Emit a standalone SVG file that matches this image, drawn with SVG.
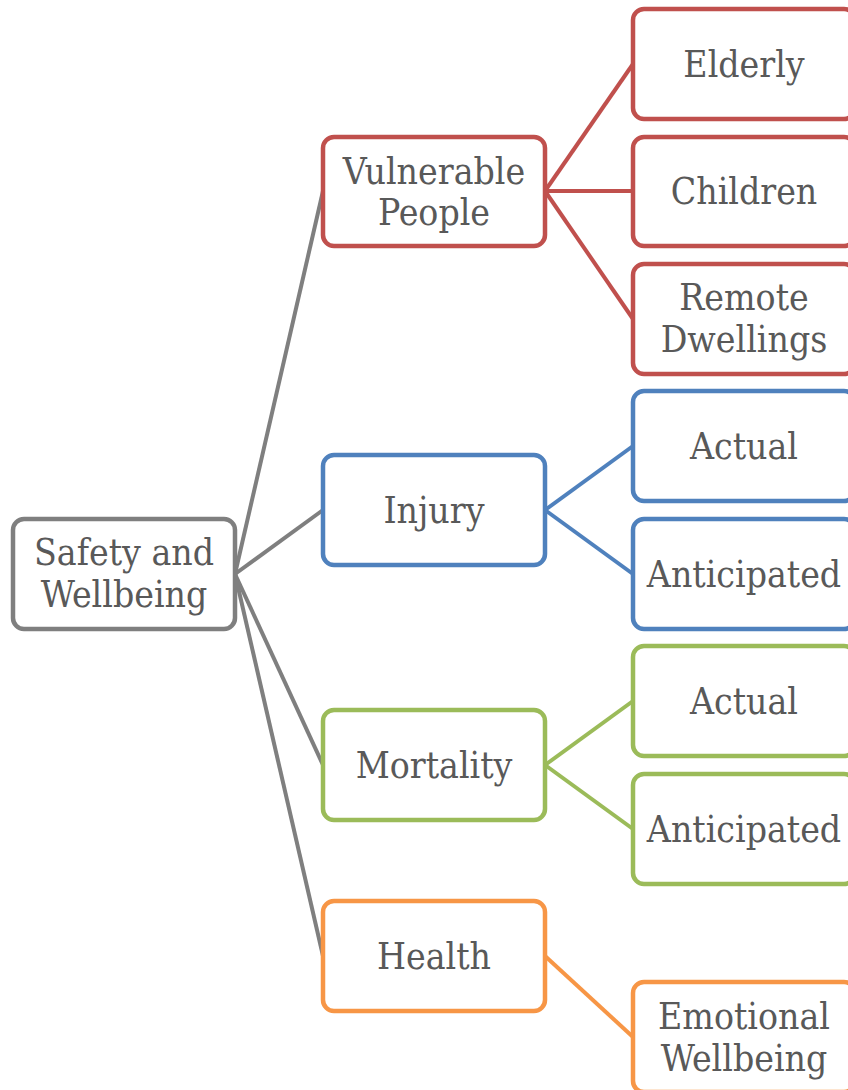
<svg xmlns="http://www.w3.org/2000/svg" width="848" height="1090" viewBox="0 0 848 1090">
  <style>
    .box { fill: #ffffff; stroke-width: 4.5; }
    .lbl { font-family: "DejaVu Serif", "Liberation Serif", serif; font-stretch: condensed; font-size: 37px; fill: #595959; text-anchor: middle; }
    .gray { stroke: #7f7f7f; }
    .red { stroke: #c0504d; }
    .blue { stroke: #4f81bd; }
    .green { stroke: #9bbb59; }
    .orange { stroke: #f79646; }
    #connectors line { stroke-width: 4; fill: none; }
  </style>
  <rect width="848" height="1090" fill="#ffffff"/>

  <g id="connectors">
    <line class="gray" x1="235" y1="574" x2="323" y2="191"/>
    <line class="gray" x1="235" y1="574" x2="323" y2="510"/>
    <line class="gray" x1="235" y1="574" x2="323" y2="765"/>
    <line class="gray" x1="235" y1="574" x2="323" y2="956"/>
    <line class="red" x1="545" y1="191" x2="633" y2="64"/>
    <line class="red" x1="545" y1="191" x2="633" y2="191"/>
    <line class="red" x1="545" y1="191" x2="633" y2="319"/>
    <line class="blue" x1="545" y1="510" x2="633" y2="446"/>
    <line class="blue" x1="545" y1="510" x2="633" y2="574"/>
    <line class="green" x1="545" y1="765" x2="633" y2="701"/>
    <line class="green" x1="545" y1="765" x2="633" y2="829"/>
    <line class="orange" x1="545" y1="956" x2="633" y2="1037"/>
  </g>

  <g id="safety-wellbeing">
    <rect class="box gray" x="13" y="519" width="222" height="110" rx="11"/>
    <text class="lbl" x="124" y="565">Safety and</text>
    <text class="lbl" x="124" y="607">Wellbeing</text>
  </g>

  <g id="vulnerable-people">
    <rect class="box red" x="323" y="137" width="222" height="109" rx="11"/>
    <text class="lbl" x="434" y="183.5">Vulnerable</text>
    <text class="lbl" x="434" y="224.5">People</text>
  </g>
  <g id="elderly">
    <rect class="box red" x="633" y="9" width="222" height="110" rx="11"/>
    <text class="lbl" x="744" y="77">Elderly</text>
  </g>
  <g id="children">
    <rect class="box red" x="633" y="137" width="222" height="109" rx="11"/>
    <text class="lbl" x="744" y="204">Children</text>
  </g>
  <g id="remote-dwellings">
    <rect class="box red" x="633" y="264" width="222" height="110" rx="11"/>
    <text class="lbl" x="744" y="310">Remote</text>
    <text class="lbl" x="744" y="352">Dwellings</text>
  </g>

  <g id="injury">
    <rect class="box blue" x="323" y="455" width="222" height="110" rx="11"/>
    <text class="lbl" x="434" y="523">Injury</text>
  </g>
  <g id="injury-actual">
    <rect class="box blue" x="633" y="391" width="222" height="110" rx="11"/>
    <text class="lbl" x="744" y="459">Actual</text>
  </g>
  <g id="injury-anticipated">
    <rect class="box blue" x="633" y="519" width="222" height="110" rx="11"/>
    <text class="lbl" x="744" y="587">Anticipated</text>
  </g>

  <g id="mortality">
    <rect class="box green" x="323" y="710" width="222" height="110" rx="11"/>
    <text class="lbl" x="434" y="778">Mortality</text>
  </g>
  <g id="mortality-actual">
    <rect class="box green" x="633" y="646" width="222" height="110" rx="11"/>
    <text class="lbl" x="744" y="714">Actual</text>
  </g>
  <g id="mortality-anticipated">
    <rect class="box green" x="633" y="774" width="222" height="110" rx="11"/>
    <text class="lbl" x="744" y="842">Anticipated</text>
  </g>

  <g id="health">
    <rect class="box orange" x="323" y="901" width="222" height="110" rx="11"/>
    <text class="lbl" x="434" y="969">Health</text>
  </g>
  <g id="emotional-wellbeing">
    <rect class="box orange" x="633" y="982" width="222" height="110" rx="11"/>
    <text class="lbl" x="744" y="1028.5">Emotional</text>
    <text class="lbl" x="744" y="1070.5">Wellbeing</text>
  </g>
</svg>
